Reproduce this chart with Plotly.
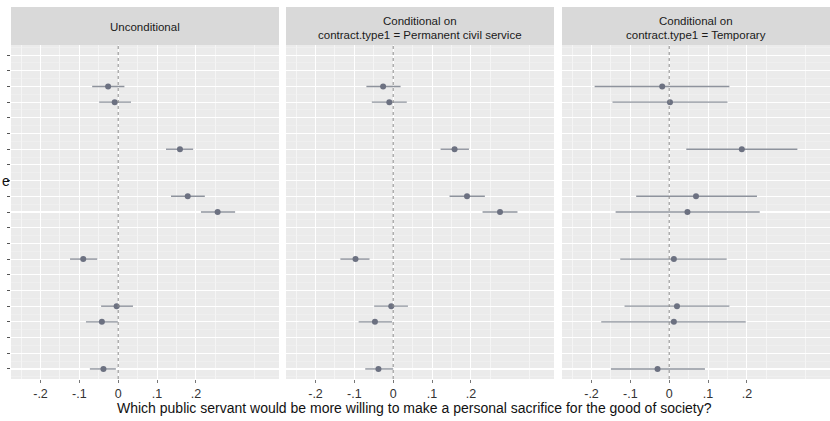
import plotly.graph_objects as go

# ---- data ----
panel_titles = [
    ["Unconditional"],
    ["Conditional on", "contract.type1 = Permanent civil service"],
    ["Conditional on", "contract.type1 = Temporary"],
]
n_rows = 21
row_pos = [2, 3, 6, 9, 10, 13, 16, 17, 20]

est_uncond = [-0.026, -0.009, 0.159, 0.179, 0.256, -0.090, -0.004, -0.042, -0.038]
lo_uncond = [-0.067, -0.049, 0.123, 0.136, 0.213, -0.124, -0.044, -0.083, -0.073]
hi_uncond = [0.016, 0.033, 0.193, 0.223, 0.301, -0.054, 0.038, -0.001, -0.006]

est_perm = [-0.026, -0.010, 0.158, 0.190, 0.275, -0.097, -0.005, -0.047, -0.038]
lo_perm = [-0.069, -0.055, 0.122, 0.145, 0.230, -0.136, -0.049, -0.089, -0.072]
hi_perm = [0.019, 0.035, 0.195, 0.236, 0.320, -0.061, 0.038, -0.003, 0.000]

est_temp = [-0.018, 0.002, 0.187, 0.069, 0.047, 0.012, 0.020, 0.012, -0.030]
lo_temp = [-0.192, -0.146, 0.044, -0.085, -0.138, -0.126, -0.115, -0.175, -0.150]
hi_temp = [0.155, 0.150, 0.330, 0.226, 0.233, 0.148, 0.155, 0.197, 0.092]

x_tickvals = [-0.2, -0.1, 0.0, 0.1, 0.2]
x_ticktext = ["-.2", "-.1", "0", ".1", ".2"]
x_title = "Which public servant would be more willing to make a personal sacrifice for the good of society?"
y_label_fragment = "e"

series = [
    (est_uncond, lo_uncond, hi_uncond),
    (est_perm, lo_perm, hi_perm),
    (est_temp, lo_temp, hi_temp),
]

# ---- layout geometry ----
W, H = 830, 421
x_domains = [[11 / W, 279 / W], [286 / W, 554 / W], [562 / W, 1.0]]
y_domain = [1 - 379 / H, 1 - 45 / H]
strip_y = [1 - 45 / H, 1 - 7 / H]
x_range = [-0.276, 0.414]
y_range = [n_rows - 1 + 0.64, -0.64]

PANEL_BG = "#ebebeb"
STRIP_BG = "#d9d9d9"
PT_COLOR = "#6c7181"
BAR_COLOR = "#8e939d"
FONT = "Liberation Sans, Arial, sans-serif"

fig = go.Figure()
layout = dict(
    width=W, height=H,
    margin=dict(l=0, r=0, t=0, b=0),
    paper_bgcolor="white",
    plot_bgcolor=PANEL_BG,
    showlegend=False,
    font=dict(family=FONT, color="#333333", size=12),
)
shapes = []
annotations = []

for i, (est, lo, hi) in enumerate(series):
    ax = "" if i == 0 else str(i + 1)
    xa = "x" + ax
    ya = "y" + ax
    plus = [h - e for h, e in zip(hi, est)]
    minus = [e - l for e, l in zip(est, lo)]
    fig.add_trace(go.Scatter(
        x=est, y=row_pos, mode="markers",
        marker=dict(color=PT_COLOR, size=6),
        error_x=dict(type="data", array=plus, arrayminus=minus, symmetric=False,
                     color=BAR_COLOR, thickness=1.4, width=0),
        xaxis=xa, yaxis=ya, hoverinfo="skip",
    ))
    layout["xaxis" + ax] = dict(
        domain=x_domains[i], range=x_range, anchor=ya,
        tickmode="array", tickvals=x_tickvals, ticktext=x_ticktext,
        showgrid=True, gridcolor="white", gridwidth=1,
        zeroline=False, showline=False,
        ticks="outside", ticklen=3, tickcolor="#777777", tickwidth=1,
        tickfont=dict(size=12.5, color="#333333", family=FONT),
        minor=dict(tickmode="linear", tick0=0.05, dtick=0.1, showgrid=True,
                   gridcolor="#f8f8f8", gridwidth=0.8, ticks=""),
    )
    layout["yaxis" + ax] = dict(
        domain=y_domain, range=y_range, anchor=xa,
        tickmode="linear", tick0=0, dtick=1,
        showgrid=True, gridcolor="white", gridwidth=1.1,
        zeroline=False, showline=False, showticklabels=False,
        ticks="outside" if i == 0 else "", ticklen=3, tickcolor="#555555", tickwidth=1,
        minor=dict(tickmode="linear", tick0=0.5, dtick=1, showgrid=True,
                   gridcolor="#f3f3f3", gridwidth=0.5, ticks=""),
    )
    # dotted zero reference line
    shapes.append(dict(type="line", xref=xa, yref=(ya + " domain"),
                       x0=0, x1=0, y0=0, y1=1,
                       line=dict(color="#8a8a8a", width=1, dash="dot"), layer="above"))
    # strip
    shapes.append(dict(type="rect", xref="paper", yref="paper",
                       x0=x_domains[i][0], x1=x_domains[i][1],
                       y0=strip_y[0], y1=strip_y[1],
                       fillcolor=STRIP_BG, line=dict(width=0), layer="below"))
    lines = panel_titles[i]
    if len(lines) == 1:
        ys = [27]
    else:
        ys = [21, 35]
    for txt, ypx in zip(lines, ys):
        annotations.append(dict(
            text=txt, xref="paper", yref="paper",
            x=(x_domains[i][0] + x_domains[i][1]) / 2,
            y=1 - ypx / H,
            xanchor="center", yanchor="middle", showarrow=False,
            font=dict(size=11.5, color="#1a1a1a", family=FONT),
        ))

# x-axis title
annotations.append(dict(
    text=x_title, xref="paper", yref="paper",
    x=414 / W, y=1 - 408 / H, xanchor="center", yanchor="middle",
    showarrow=False, font=dict(size=14, color="#111111", family=FONT),
))
# cut-off y-axis label fragment
annotations.append(dict(
    text=y_label_fragment, xref="paper", yref="paper",
    x=0, y=1 - 181 / H, xanchor="left", yanchor="middle",
    showarrow=False, font=dict(size=14, color="#111111", family=FONT),
))

layout["shapes"] = shapes
layout["annotations"] = annotations
fig.update_layout(**layout)
fig.write_html(
    "out.html",
    config={"displayModeBar": False, "staticPlot": True},
    post_script="document.body.style.margin='0';document.body.style.overflow='hidden';",
)
